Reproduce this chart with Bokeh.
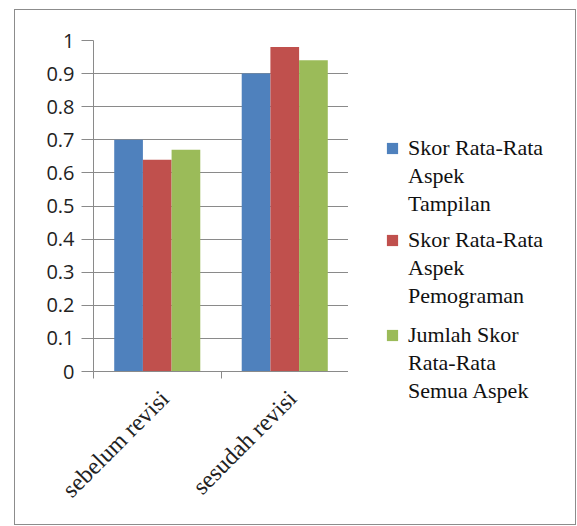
import numpy as np
from bokeh.plotting import figure
from bokeh.layouts import row
from bokeh.models import ColumnDataSource, Range1d, FixedTicker, Legend, LegendItem
from bokeh.transform import dodge
from bokeh.embed import file_html
from bokeh.resources import INLINE

# ---- data ----
categories = ["sebelum revisi", "sesudah revisi"]
series_label_lines = [
    ["Skor Rata-Rata", "Aspek", "Tampilan"],
    ["Skor Rata-Rata", "Aspek", "Pemograman"],
    ["Jumlah Skor", "Rata-Rata", "Semua Aspek"],
]
skor_tampilan = [0.70, 0.90]
skor_pemograman = [0.64, 0.98]
skor_semua = [0.67, 0.94]
y_ticks = [0, 0.1, 0.2, 0.3, 0.4, 0.5, 0.6, 0.7, 0.8, 0.9, 1]
y_tick_labels = ["0", "0.1", "0.2", "0.3", "0.4", "0.5", "0.6", "0.7", "0.8", "0.9", "1"]

colors = ["#4F81BD", "#C0504D", "#9BBB59"]
GRAY = "#8a8a8a"

pos = [i + 0.5 for i in range(len(categories))]
bounds = [i for i in range(len(categories) + 1)]
label_pos = [x + 0.06 for x in pos]   # label anchors nudged right of the group centre
source = ColumnDataSource(dict(x=pos, s0=skor_tampilan, s1=skor_pemograman, s2=skor_semua))
keys = ["s0", "s1", "s2"]

# ---- main chart ----
p = figure(width=333, height=514, output_backend="svg", toolbar_location=None,
           x_range=Range1d(0, len(categories)), y_range=Range1d(0, 1),
           min_border_left=78, min_border_right=0, min_border_top=30, min_border_bottom=153)
p.frame_align = False
p.outline_line_color = None
p.background_fill_color = "white"
p.border_fill_color = "white"

bw = 0.225
for j, key in enumerate(keys):
    p.vbar(x=dodge("x", (j - 1) * bw, range=p.x_range), top=key, width=bw,
           bottom=0, source=source, fill_color=colors[j], line_color=None)

p.xaxis.ticker = FixedTicker(ticks=label_pos, minor_ticks=bounds)
p.xaxis.major_label_overrides = {x: c for x, c in zip(label_pos, categories)}
p.xaxis.major_tick_out = 0
p.xaxis.major_tick_in = 0
p.xaxis.minor_tick_out = 7
p.xaxis.minor_tick_in = 0
p.xaxis.minor_tick_line_color = GRAY
p.xaxis.axis_line_color = GRAY
p.xaxis.major_label_orientation = np.pi / 4
p.xaxis.major_label_text_font = "Liberation Serif"
p.xaxis.major_label_text_font_size = "24px"
p.xaxis.major_label_text_color = "#222222"
p.xaxis.major_label_standoff = 16

p.yaxis.ticker = FixedTicker(ticks=y_ticks)
p.yaxis.major_label_overrides = {t: l for t, l in zip(y_ticks, y_tick_labels)}
p.yaxis.major_tick_out = 12
p.yaxis.major_tick_in = 0
p.yaxis.minor_tick_line_color = None
p.yaxis.major_tick_line_color = GRAY
p.yaxis.axis_line_color = GRAY
p.yaxis.major_label_text_font = "Open Sans"
p.yaxis.major_label_text_font_size = "20px"
p.yaxis.major_label_text_color = "#222222"
p.yaxis.major_label_standoff = 7

p.xgrid.visible = False
p.ygrid.grid_line_color = GRAY
p.ygrid.grid_line_width = 1

# ---- legend panel ----
p2 = figure(width=227, height=514, output_backend="svg", toolbar_location=None,
            x_range=Range1d(0, 1), y_range=Range1d(0, 1),
            min_border=0, min_border_left=0, min_border_right=0, min_border_top=0, min_border_bottom=0)
p2.frame_align = False
p2.axis.visible = False
p2.grid.visible = False
p2.outline_line_color = None
p2.background_fill_color = "white"
p2.border_fill_color = "white"

legend_y = [306, 214, 119]
for j, key in enumerate(keys):
    r_col = p2.vbar(x="x", top=key, width=bw, bottom=0, source=source,
                    fill_color=colors[j], line_color=None, visible=False)
    r_blank = p2.vbar(x="x", top=key, width=bw, bottom=0, source=source,
                      fill_alpha=0, line_alpha=0, visible=False)
    items = [LegendItem(label=series_label_lines[j][0], renderers=[r_col])]
    items += [LegendItem(label=t, renderers=[r_blank]) for t in series_label_lines[j][1:]]
    lg = Legend(items=items, location=(37, legend_y[j]), orientation="vertical",
                label_text_font="Liberation Serif", label_text_font_size="22px",
                label_text_color="#111111", label_height=28,
                glyph_width=14, glyph_height=14, label_standoff=9, spacing=0,
                padding=0, margin=0, border_line_color=None, background_fill_alpha=0)
    p2.add_layout(lg)

layout = row(p, p2, margin=(9, 0, 0, 14), styles={"border": "1px solid #8c8c8c"})

open("out.html", "w").write(file_html(layout, INLINE))
